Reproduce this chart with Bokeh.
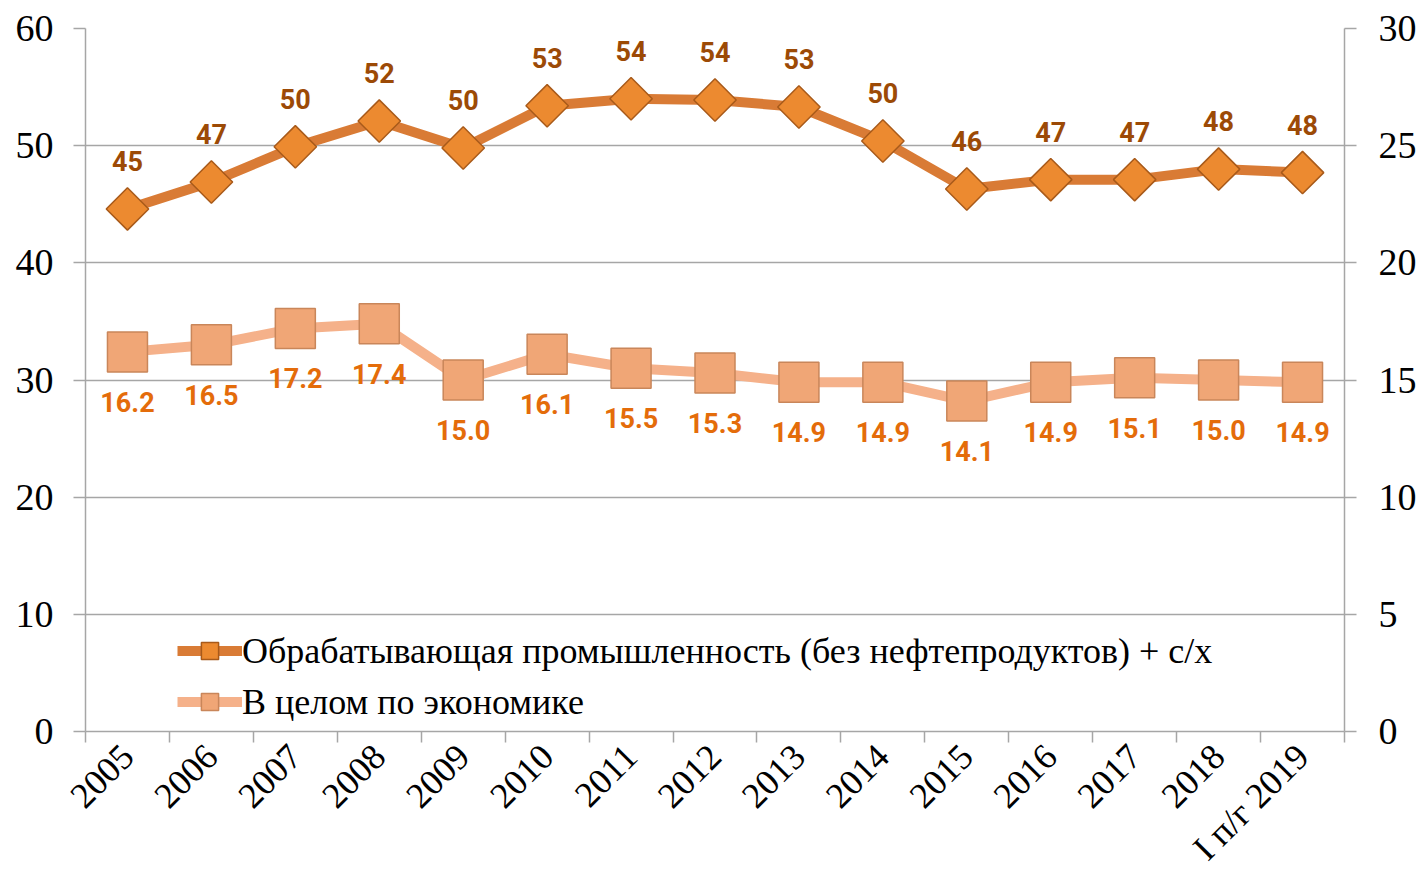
import math
from bokeh.plotting import figure
from bokeh.models import (Range1d, LinearAxis, FixedTicker, ColumnDataSource,
                          Legend, LegendItem)
from bokeh.core.properties import value
from bokeh.embed import file_html
from bokeh.resources import INLINE

categories = ["2005", "2006", "2007", "2008", "2009", "2010", "2011", "2012",
              "2013", "2014", "2015", "2016", "2017", "2018", "I п/г 2019"]
manuf = [44.6, 46.9, 49.9, 52.1, 49.8, 53.4, 54.0, 53.9, 53.3, 50.4, 46.3,
         47.1, 47.1, 48.0, 47.7]
economy = [16.2, 16.5, 17.2, 17.4, 15.0, 16.1, 15.5, 15.3, 14.9, 14.9, 14.1,
           14.9, 15.1, 15.0, 14.9]
left_ticks = [0, 10, 20, 30, 40, 50, 60]
right_ticks = [0, 5, 10, 15, 20, 25, 30]
legend_labels = ["Обрабатывающая промышленность (без нефтепродуктов) + с/х",
                 "В целом по экономике"]

n = len(categories)
xs = [i + 0.5 for i in range(n)]

src = ColumnDataSource(dict(
    x=xs, m=manuf, e=economy,
    ml=[f"{v:.0f}" for v in manuf],
    el=[f"{v:.1f}" for v in economy],
))

SERIF = "Liberation Serif"
NARROW = "Roboto"
GRID = "#a6a6a6"

p = figure(width=1419, height=886, output_backend="svg", toolbar_location=None,
           x_range=Range1d(0, n), y_range=Range1d(0, 60),
           min_border_left=85, min_border_right=71, min_border_top=28,
           min_border_bottom=155)
p.extra_y_ranges = {"right": Range1d(0, 30)}
p.outline_line_color = None
p.background_fill_color = "white"
p.border_fill_color = "white"

# grid
p.xgrid.grid_line_color = None
p.ygrid.ticker = FixedTicker(ticks=left_ticks)
p.ygrid.grid_line_color = GRID
p.ygrid.grid_line_width = 1.5

# left axis
la = p.yaxis[0]
la.ticker = FixedTicker(ticks=left_ticks)
la.axis_line_color = GRID
la.axis_line_width = 1.5
la.major_tick_line_color = GRID
la.major_tick_line_width = 1.5
la.major_tick_out = 12
la.major_tick_in = 0
la.minor_tick_line_color = None
la.major_label_text_font = SERIF
la.major_label_text_font_size = "38px"
la.major_label_text_color = "black"
la.major_label_standoff = 20

# right axis
ra = LinearAxis(y_range_name="right", ticker=FixedTicker(ticks=right_ticks))
ra.axis_line_color = GRID
ra.axis_line_width = 1.5
ra.major_tick_line_color = GRID
ra.major_tick_line_width = 1.5
ra.major_tick_out = 12
ra.major_tick_in = 0
ra.minor_tick_line_color = None
ra.major_label_text_font = SERIF
ra.major_label_text_font_size = "38px"
ra.major_label_text_color = "black"
ra.major_label_standoff = 22
p.add_layout(ra, "right")

# x axis: ticks at category boundaries, labels at category centres
xa = p.xaxis[0]
xa.ticker = FixedTicker(ticks=xs, minor_ticks=list(range(n + 1)))
xa.major_label_overrides = {x: c for x, c in zip(xs, categories)}
xa.axis_line_color = GRID
xa.axis_line_width = 1.5
xa.major_tick_line_color = None
xa.major_tick_out = 0
xa.major_tick_in = 0
xa.minor_tick_line_color = GRID
xa.minor_tick_line_width = 1.5
xa.minor_tick_out = 11
xa.minor_tick_in = 0
xa.major_label_orientation = math.pi / 4
xa.major_label_text_font = SERIF
xa.major_label_text_font_size = "36px"
xa.major_label_text_color = "black"
xa.major_label_standoff = 8

# series
l1 = p.line("x", "m", source=src, line_color="#d97b35", line_width=10)
s1 = p.scatter("x", "m", source=src, marker="square", size=30, angle=math.pi / 4,
               fill_color="#ec8a30", line_color="#a85a1a", line_width=1.5)
l2 = p.line("x", "e", source=src, y_range_name="right", line_color="#f5b18a",
            line_width=10)
s2 = p.scatter("x", "e", source=src, y_range_name="right", marker="square", size=40,
               fill_color="#f0a676", line_color="#c9865a", line_width=1.5)

p.text("x", "m", text="ml", source=src, y_offset=-48, text_align="center",
       text_baseline="middle", text_font=value(NARROW), text_font_style="bold",
       text_font_size="27px", text_color="#9c4a06")
p.text("x", "e", text="el", source=src, y_range_name="right", y_offset=50,
       text_align="center", text_baseline="middle", text_font=value(NARROW),
       text_font_style="bold", text_font_size="27px", text_color="#e46c0a")

legend = Legend(items=[LegendItem(label=legend_labels[0], renderers=[l1, s1]),
                       LegendItem(label=legend_labels[1], renderers=[l2, s2])],
                location=(92, 8), orientation="vertical")
legend.background_fill_alpha = 0
legend.border_line_color = None
legend.label_text_font = SERIF
legend.label_text_font_size = "36px"
legend.label_text_color = "black"
legend.glyph_width = 65
legend.glyph_height = 43
legend.label_standoff = 0
legend.spacing = 8
legend.padding = 4
p.add_layout(legend, "center")

open("out.html", "w").write(file_html(p, INLINE))
